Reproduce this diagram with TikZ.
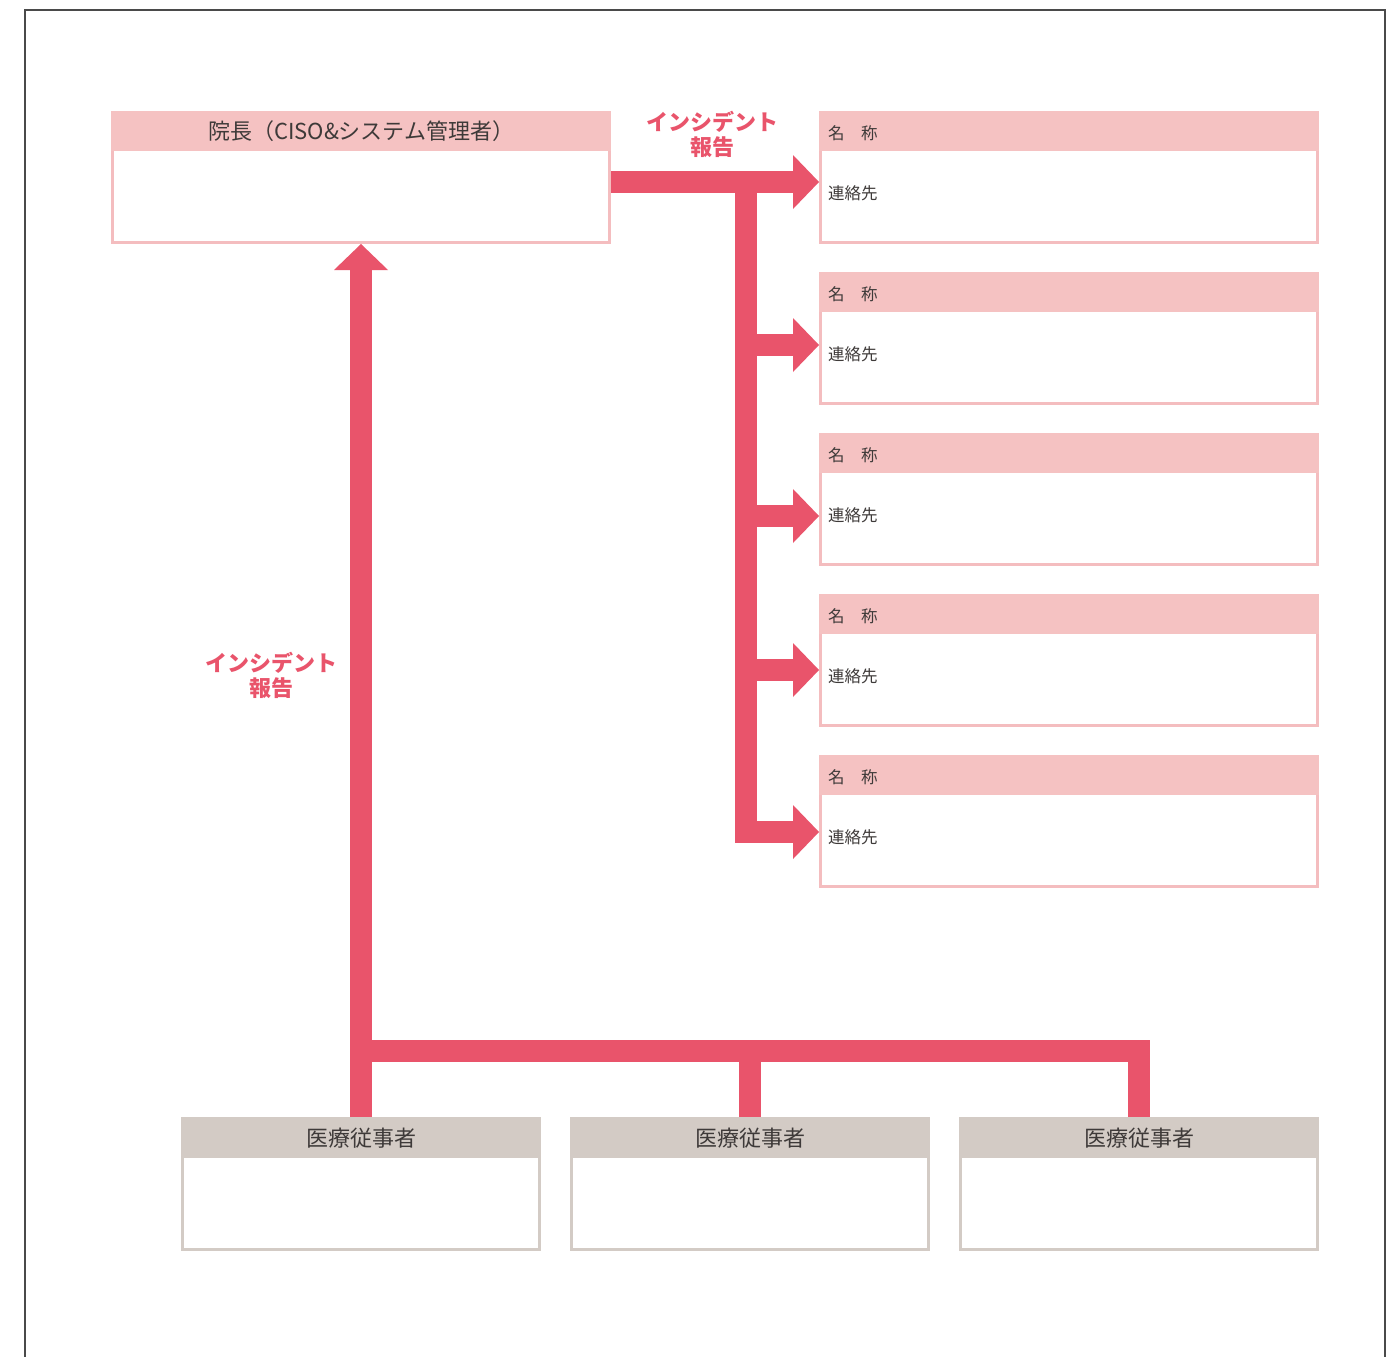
\documentclass[tikz,border=0pt]{standalone}
\usepackage{fontspec}
\setmainfont{Noto Sans CJK JP}
\usetikzlibrary{arrows.meta}
\definecolor{hpink}{HTML}{F5C2C2}
\definecolor{bpink}{HTML}{F4BDBF}
\definecolor{ared}{HTML}{E9546B}
\definecolor{beige}{HTML}{D3CBC5}
\definecolor{txt}{HTML}{3E3A39}
\definecolor{framec}{HTML}{4A4A4A}
\begin{document}
\begin{tikzpicture}[x=1pt,y=-1pt,
  bodyp/.style={draw=bpink, line width=3pt, fill=white, minimum width=497pt, minimum height=130pt, inner sep=0pt},
  headp/.style={fill=hpink, minimum width=500pt, minimum height=40pt, inner sep=0pt, anchor=north west},
  bodyb/.style={draw=beige, line width=3pt, fill=white, minimum width=357pt, minimum height=131pt, inner sep=0pt},
  headb/.style={fill=beige, minimum width=360pt, minimum height=41pt, inner sep=0pt, anchor=north west,
     text=txt, font=\fontsize{22}{26}\selectfont},
  smalltxt/.style={anchor=west, inner sep=0pt, text=txt, font=\fontsize{16.5}{20}\selectfont},
  flow/.style={draw=ared, line width=22pt, line join=miter},
  tipped/.style={-{Triangle[width=54pt,length=26pt,line width=0pt]}},
  lbl/.style={text=ared, align=center, inner sep=0pt, font=\fontsize{22}{25}\selectfont\bfseries},
  framel/.style={draw=framec, line width=2pt}
]
\useasboundingbox (0,0) rectangle (1400,1357);
\fill[white] (0,0) rectangle (1400,1357);
\draw[framel] (25,1357) -- (25,10) -- (1385,10) -- (1385,1357);

% top-left box
\node[bodyp] (ciso) at (361,177.5) {};
\node[headp, text=txt, font=\fontsize{22}{26}\selectfont] (cisoh) at (111,111) {院長（CISO\&システム管理者）};

% right boxes
\foreach \i/\t in {1/111,2/272,3/433,4/594,5/755}{
  \node[bodyp] (c\i) at (1069,\t+66.5) {};
  \node[headp] (c\i h) at (819,\t) {};
  \node[smalltxt] (c\i n) at (828,\t+22) {名　称};
  \node[smalltxt] (c\i r) at (828,\t+82) {連絡先};
}

% bottom boxes
\foreach \i/\x in {1/181,2/570,3/959}{
  \node[bodyb] (s\i) at (\x+180,1184) {};
  \node[headb] (s\i h) at (\x,1117) {医療従事者};
}

% arrows
\coordinate (j0) at (746,182);
\coordinate (j2) at (746,345);
\coordinate (j3) at (746,516);
\coordinate (j4) at (746,670);
\coordinate (j5) at (746,832);
\draw[flow,tipped] (ciso.east |- j0) -- (c1.west |- j0);
\draw[flow,tipped] (j0) -- (j5) -- (c5.west |- j5);
\draw[flow,tipped] (j2) -- (c2.west |- j2);
\draw[flow,tipped] (j3) -- (c3.west |- j3);
\draw[flow,tipped] (j4) -- (c4.west |- j4);

\coordinate (b0) at (361,1051);
\draw[flow,tipped] (s1h.north -| s1.north) -- (ciso.south);
\draw[flow] (b0) -- (b0 -| s3) -- (s3h.north -| s3.north);
\draw[flow] (b0 -| s2) -- (s2h.north -| s2.north);

% labels
\node[lbl] (lab1) at (712,134) {インシデント\\報告};
\node[lbl] (lab2) at (271,675) {インシデント\\報告};
\end{tikzpicture}
\end{document}
